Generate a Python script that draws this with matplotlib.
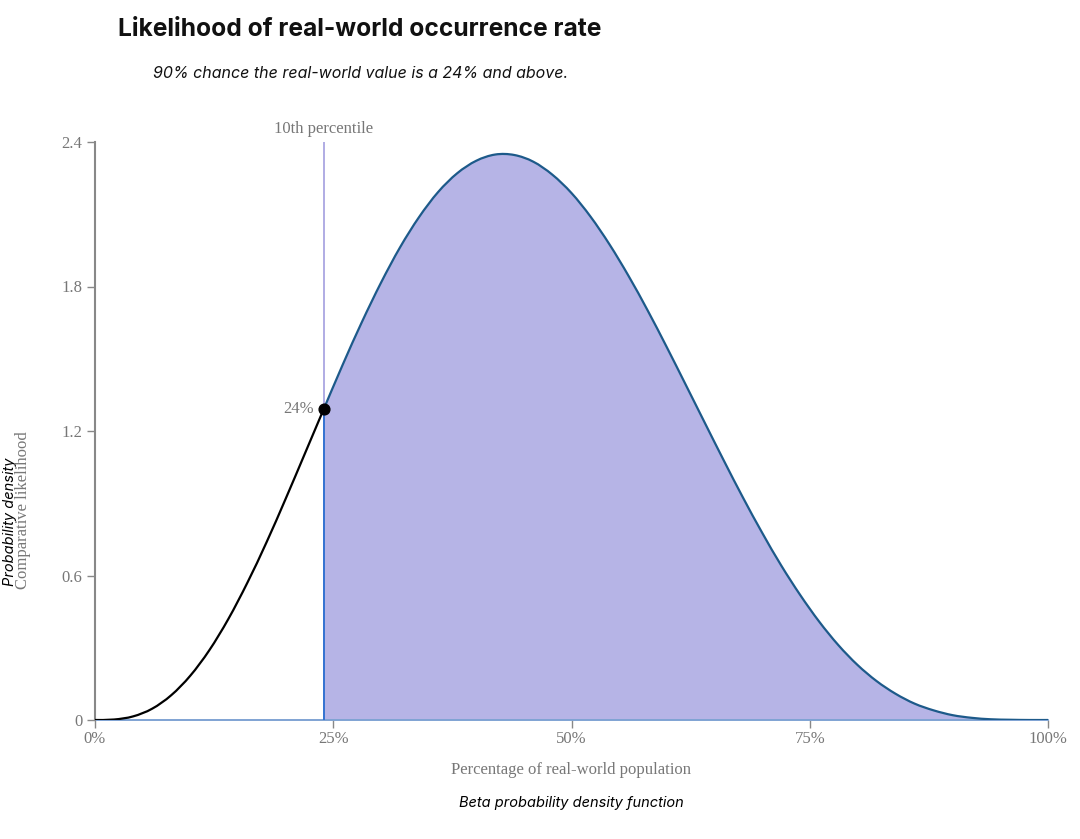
import matplotlib
matplotlib.use("Agg")
import matplotlib.pyplot as plt
from matplotlib.path import Path
from matplotlib.patches import PathPatch
import numpy as np

# Data (beta density curve)
x_vals = [0.00, 0.02, 0.04, 0.06, 0.08, 0.10, 0.12, 0.14, 0.16, 0.18, 0.20,
          0.22, 0.24, 0.26, 0.28, 0.30, 0.32, 0.34, 0.36, 0.38, 0.40,
          0.42, 0.44, 0.46, 0.48, 0.50, 0.52, 0.54, 0.56, 0.58, 0.60,
          0.62, 0.64, 0.66, 0.68, 0.70, 0.72, 0.74, 0.76, 0.78, 0.80,
          0.82, 0.84, 0.86, 0.88, 0.90, 0.92, 0.94, 0.96, 0.98, 1.00]
density = [0.0, 0.002, 0.015, 0.047, 0.103, 0.184, 0.290, 0.420, 0.571, 0.738, 0.918,
           1.104, 1.291, 1.476, 1.652, 1.815, 1.962, 2.088, 2.192, 2.270, 2.322,
           2.348, 2.346, 2.318, 2.264, 2.188, 2.090, 1.974, 1.843, 1.700, 1.548,
           1.391, 1.233, 1.076, 0.923, 0.778, 0.642, 0.519, 0.408, 0.311, 0.229,
           0.162, 0.109, 0.068, 0.040, 0.020, 0.009, 0.003, 0.001, 0.0, 0.0]
percentile_x = 0.24
percentile_y = 1.291
percentile_label = "24%"
x_ticks = [0, 0.25, 0.5, 0.75, 1.0]
x_tick_labels = ["0%", "25%", "50%", "75%", "100%"]
y_ticks = [0, 0.6, 1.2, 1.8, 2.4]
y_tick_labels = ["0", "0.6", "1.2", "1.8", "2.4"]

x = np.array(x_vals)
y = np.array(density)


def smooth_path(px, py):
    """Catmull-Rom spline through the points, rendered as cubic Bezier segments."""
    pts = np.column_stack([px, py])
    n = len(pts)
    verts = [pts[0]]
    codes = [Path.MOVETO]
    for i in range(n - 1):
        p0 = pts[i - 1] if i > 0 else pts[i]
        p1 = pts[i]
        p2 = pts[i + 1]
        p3 = pts[i + 2] if i + 2 < n else pts[i + 1]
        c1 = p1 + (p2 - p0) / 6.0
        c2 = p2 - (p3 - p1) / 6.0
        verts += [c1, c2, p2]
        codes += [Path.CURVE4] * 3
    return verts, codes


fig = plt.figure(figsize=(10.8, 8.39), dpi=100)
ax = fig.add_axes([95/1080, 1 - 720/839, (1048-95)/1080, (720-142)/839])

serif = ["Liberation Serif", "DejaVu Serif"]
gray = "#777777"

idx = x_vals.index(percentile_x)
xl, yl = x[:idx + 1], y[:idx + 1]
xr, yr = x[idx:], y[idx:]

# fill under the right part
v, c = smooth_path(xr, yr)
fill_verts = v + [(xr[-1], 0.0), (xr[0], 0.0), (xr[0], yr[0])]
fill_codes = c + [Path.LINETO, Path.LINETO, Path.CLOSEPOLY]
ax.add_patch(PathPatch(Path(fill_verts, fill_codes), facecolor="#b6b4e6", edgecolor="none", zorder=1))

# baseline
ax.plot([0, 1], [0, 0], color="#7fa3d3", lw=1.4, zorder=2, clip_on=False)
# percentile vertical line
ax.plot([percentile_x, percentile_x], [0, 2.4], color="#aaa6e2", lw=1.3, zorder=2)
ax.plot([percentile_x, percentile_x], [0, percentile_y], color="#2a6fd0", lw=1.3, zorder=3)

# curves
vl, cl = smooth_path(xl, yl)
ax.add_patch(PathPatch(Path(vl, cl), facecolor="none", edgecolor="black", lw=1.6, zorder=4))
ax.add_patch(PathPatch(Path(v, c), facecolor="none", edgecolor="#1d5a8a", lw=1.6, zorder=4))

ax.scatter([percentile_x], [percentile_y], s=60, color="black", zorder=5)
ax.text(percentile_x - 0.01, percentile_y, percentile_label, ha="right", va="center",
        fontsize=12, color=gray, family=serif)
ax.text(percentile_x, 2.4 + 0.02, "10th percentile", ha="center", va="bottom",
        fontsize=12, color=gray, family=serif)

ax.set_xlim(0, 1)
ax.set_ylim(0, 2.4)
for s in ["top", "right", "bottom"]:
    ax.spines[s].set_visible(False)
ax.spines["left"].set_color("#888888")
ax.spines["left"].set_linewidth(1.5)
ax.set_xticks(x_ticks)
ax.set_xticklabels(x_tick_labels, family=serif, fontsize=12, color=gray)
ax.set_yticks(y_ticks)
ax.set_yticklabels(y_tick_labels, family=serif, fontsize=12, color=gray)
ax.tick_params(axis="both", color="#888888", length=6, width=1, pad=3)
ax.tick_params(axis="x", pad=2)

# axis labels
fig.text(571/1080, 1 - 770/839, "Percentage of real-world population", ha="center", va="center",
         fontsize=12, color=gray, family=serif)
fig.text(571/1080, 1 - 803/839, "Beta probability density function", ha="center", va="center",
         fontsize=10.5, style="italic", color="black", family="Inter")
fig.text(10/1080, 1 - 522/839, "Probability density", rotation=90, ha="center", va="center",
         fontsize=10.5, style="italic", color="black", family="Inter")
fig.text(23/1080, 1 - 510/839, "Comparative likelihood", rotation=90, ha="center", va="center",
         fontsize=12, color=gray, family=serif)

# titles
fig.text(118/1080, 1 - 29/839, "Likelihood of real-world occurrence rate", ha="left", va="center",
         fontsize=17.7, fontweight="bold", color="#111111", family="Inter")
fig.text(153/1080, 1 - 73/839, "90% chance the real-world value is a 24% and above.", ha="left",
         va="center", fontsize=11.5, style="italic", color="#111111", family="Inter")

fig.savefig("out.png", dpi=100)
